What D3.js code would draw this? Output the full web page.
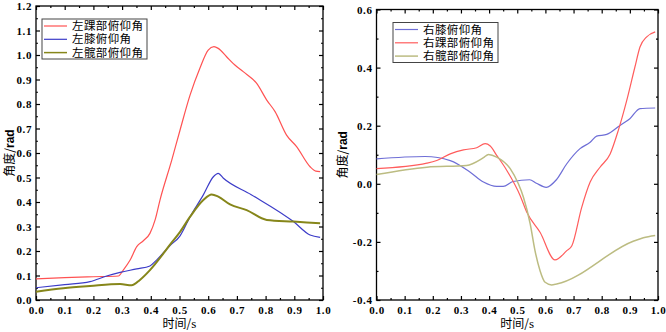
<!DOCTYPE html>
<html>
<head>
<meta charset="utf-8">
<script src="https://cdn.jsdelivr.net/npm/d3@7"></script>
<style>
  body { margin: 0; background: #fff; }
  .tick text { font-family: "Liberation Serif", serif; font-weight: bold; font-size: 11px; letter-spacing: 0.6px; }
  .cjk { font-family: "Noto Sans CJK SC", sans-serif; font-size: 12px; }
</style>
</head>
<body>
<svg id="chart" width="666" height="332"></svg>
<script>
// left panel (左)
const leftAnkleT = [0, 0.1, 0.2, 0.287, 0.304, 0.328, 0.351, 0.374, 0.397, 0.415, 0.432, 0.473, 0.502, 0.537, 0.571, 0.6, 0.62, 0.635, 0.664, 0.693, 0.722, 0.769, 0.804, 0.833, 0.873, 0.908, 0.955, 0.975, 0.99];
const leftAnkleV = [0.086, 0.091, 0.095, 0.098, 0.122, 0.163, 0.218, 0.242, 0.272, 0.327, 0.408, 0.571, 0.694, 0.837, 0.946, 1.02, 1.034, 1.027, 0.993, 0.959, 0.932, 0.884, 0.816, 0.769, 0.673, 0.626, 0.544, 0.526, 0.524];
const leftKneeT = [0, 0.1, 0.188, 0.246, 0.293, 0.351, 0.397, 0.42, 0.467, 0.502, 0.537, 0.583, 0.618, 0.635, 0.653, 0.75, 0.897, 0.955, 0.99];
const leftKneeV = [0.05, 0.063, 0.075, 0.098, 0.113, 0.127, 0.139, 0.163, 0.222, 0.262, 0.34, 0.429, 0.503, 0.517, 0.497, 0.43, 0.32, 0.265, 0.256];
const leftHipT = [0, 0.095, 0.188, 0.293, 0.333, 0.362, 0.397, 0.444, 0.467, 0.502, 0.537, 0.583, 0.612, 0.635, 0.676, 0.734, 0.804, 0.897, 0.99];
const leftHipV = [0.034, 0.048, 0.057, 0.065, 0.06, 0.082, 0.122, 0.19, 0.226, 0.278, 0.34, 0.408, 0.431, 0.422, 0.39, 0.367, 0.327, 0.32, 0.313];

// right panel (右)
const rightKneeT = [0, 0.173, 0.262, 0.333, 0.38, 0.427, 0.45, 0.485, 0.544, 0.568, 0.603, 0.639, 0.676, 0.723, 0.759, 0.782, 0.818, 0.865, 0.9, 0.936, 0.99];
const rightKneeV = [0.086, 0.094, 0.08, 0.04, 0.006, -0.009, -0.009, 0.008, 0.014, 0.002, -0.012, 0.014, 0.069, 0.121, 0.143, 0.164, 0.17, 0.201, 0.224, 0.259, 0.261];
const rightAnkleT = [0, 0.179, 0.214, 0.262, 0.309, 0.356, 0.386, 0.404, 0.427, 0.463, 0.51, 0.534, 0.581, 0.634, 0.676, 0.694, 0.729, 0.759, 0.794, 0.83, 0.859, 0.889, 0.918, 0.936, 0.96, 0.99];
const rightAnkleV = [0.052, 0.071, 0.08, 0.103, 0.117, 0.124, 0.138, 0.13, 0.098, 0.046, -0.04, -0.098, -0.167, -0.262, -0.23, -0.213, -0.081, 0.006, 0.057, 0.103, 0.184, 0.287, 0.402, 0.471, 0.506, 0.523];
const rightHipT = [0, 0.179, 0.32, 0.38, 0.398, 0.427, 0.475, 0.504, 0.522, 0.546, 0.563, 0.581, 0.599, 0.622, 0.64, 0.912, 0.948, 0.99];
const rightHipV = [0.032, 0.057, 0.063, 0.09, 0.101, 0.092, 0.052, 0.0, -0.046, -0.138, -0.23, -0.299, -0.339, -0.348, -0.345, -0.198, -0.186, -0.178];

const leftNames = ["左踝部俯仰角", "左膝俯仰角", "左髋部俯仰角"];
const rightNames = ["右膝俯仰角", "右踝部俯仰角", "右髋部俯仰角"];

const svg = d3.select("#chart");
const fmt = d => d3.format(".1f")(d).replace("−", "-");

function panel(opts) {
  const x = d3.scaleLinear().domain([0, 1]).range(opts.xr);
  const y = d3.scaleLinear().domain(opts.yd).range(opts.yr);
  const g = svg.append("g");

  const xMajor = d3.range(0, 1.0001, 0.1);
  const xMinor = d3.range(0.05, 1, 0.1);
  const yMajor = d3.range(opts.yd[0], opts.yd[1] + 1e-6, opts.ystep);
  const yMinor = d3.range(opts.yd[0] + opts.ystep / 2, opts.yd[1], opts.ystep);

  // bottom + top
  g.append("g").attr("transform", `translate(0,${opts.yr[0]})`)
    .call(d3.axisBottom(x).tickValues(xMajor).tickSize(-4).tickPadding(6).tickFormat(fmt));
  g.append("g").attr("transform", `translate(0,${opts.yr[0]})`)
    .call(d3.axisBottom(x).tickValues(xMinor).tickSize(-2).tickFormat(""));
  g.append("g").attr("transform", `translate(0,${opts.yr[1]})`)
    .call(d3.axisTop(x).tickValues(xMajor).tickSize(-4).tickFormat(""));
  g.append("g").attr("transform", `translate(0,${opts.yr[1]})`)
    .call(d3.axisTop(x).tickValues(xMinor).tickSize(-2).tickFormat(""));
  // left + right
  g.append("g").attr("transform", `translate(${opts.xr[0]},0)`)
    .call(d3.axisLeft(y).tickValues(yMajor).tickSize(-4).tickPadding(4).tickFormat(fmt));
  g.append("g").attr("transform", `translate(${opts.xr[0]},0)`)
    .call(d3.axisLeft(y).tickValues(yMinor).tickSize(-2).tickFormat(""));
  g.append("g").attr("transform", `translate(${opts.xr[1]},0)`)
    .call(d3.axisRight(y).tickValues(yMajor).tickSize(-4).tickFormat(""));
  g.append("g").attr("transform", `translate(${opts.xr[1]},0)`)
    .call(d3.axisRight(y).tickValues(yMinor).tickSize(-2).tickFormat(""));
  g.selectAll(".domain").remove();
  g.selectAll(".tick line").attr("stroke", "#000").attr("stroke-width", 1.2);

  g.append("rect")
    .attr("x", opts.xr[0]).attr("y", opts.yr[1])
    .attr("width", opts.xr[1] - opts.xr[0]).attr("height", opts.yr[0] - opts.yr[1])
    .attr("fill", "none").attr("stroke", "#000").attr("stroke-width", 1.3);

  const line = d3.line().x(d => x(d[0])).y(d => y(d[1])).curve(d3.curveMonotoneX);
  opts.series.forEach(s => {
    g.append("path")
      .datum(d3.zip(s.t, s.v))
      .attr("d", line)
      .attr("fill", "none")
      .attr("stroke", s.color)
      .attr("stroke-width", s.w);
  });

  // legend
  const lg = g.append("g");
  lg.append("rect")
    .attr("x", opts.legend.x).attr("y", opts.legend.y)
    .attr("width", opts.legend.w).attr("height", opts.legend.h)
    .attr("fill", "#fff").attr("stroke", "#444").attr("stroke-width", 1);
  opts.series.forEach((s, i) => {
    const cy = opts.legend.y + 7 + i * 13.3;
    lg.append("line")
      .attr("x1", opts.legend.x + 2).attr("x2", opts.legend.x + opts.legend.line)
      .attr("y1", cy).attr("y2", cy)
      .attr("stroke", s.color).attr("stroke-width", Math.min(s.w, 1.5));
    lg.append("text")
      .attr("class", "cjk")
      .attr("x", opts.legend.x + opts.legend.line + 5)
      .attr("y", cy + 4)
      .style("font-size", "11.5px")
      .style("letter-spacing", "0.4px")
      .text(s.name);
  });

  // axis titles
  const ytitle = g.append("text")
    .attr("transform", `translate(${opts.ytx},${(opts.yr[0] + opts.yr[1]) / 2}) rotate(-90)`)
    .attr("text-anchor", "middle");
  ytitle.append("tspan").attr("class", "cjk").text("角度/");
  ytitle.append("tspan").style("font-family", "Liberation Sans, sans-serif")
    .style("font-weight", "bold").style("font-size", "12px").text("rad");

  const xtitle = g.append("text")
    .attr("x", (opts.xr[0] + opts.xr[1]) / 2).attr("y", 328)
    .attr("text-anchor", "middle");
  xtitle.append("tspan").attr("class", "cjk").text("时间/");
  xtitle.append("tspan").style("font-family", "Liberation Serif, serif")
    .style("font-size", "13px").text("s");
}

panel({
  xr: [36, 323], yr: [300, 6], yd: [0, 1.2], ystep: 0.1, ytx: 14,
  legend: { x: 42, y: 19, w: 105, h: 40, line: 25 },
  series: [
    { name: leftNames[0], t: leftAnkleT, v: leftAnkleV, color: "#ff5252", w: 1.2 },
    { name: leftNames[1], t: leftKneeT, v: leftKneeV, color: "#3c3cc8", w: 1.2 },
    { name: leftNames[2], t: leftHipT, v: leftHipV, color: "#86861a", w: 2 }
  ]
});

panel({
  xr: [376.5, 658], yr: [300, 9.5], yd: [-0.4, 0.6], ystep: 0.2, ytx: 347,
  legend: { x: 393, y: 22.5, w: 105, h: 40, line: 25 },
  series: [
    { name: rightNames[0], t: rightKneeT, v: rightKneeV, color: "#6e6ed6", w: 1.2 },
    { name: rightNames[1], t: rightAnkleT, v: rightAnkleV, color: "#ff5c5c", w: 1.2 },
    { name: rightNames[2], t: rightHipT, v: rightHipV, color: "#bcbc82", w: 1.5 }
  ]
});
</script>
</body>
</html>
